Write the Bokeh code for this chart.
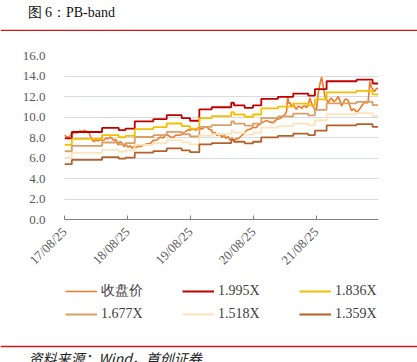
import numpy as np
import pandas as pd
from bokeh.plotting import figure
from bokeh.models import (ColumnDataSource, FixedTicker, DatetimeTickFormatter, Legend,
                          LegendItem, NumeralTickFormatter, Range1d, Label, Span)
from bokeh.layouts import column
from bokeh.embed import file_html
from bokeh.resources import INLINE

# ---------------- data ----------------
# dates are decimal years
close_t = [2017.642, 2017.674, 2017.717, 2017.753, 2017.801, 2017.848, 2017.896, 2017.928, 2017.959, 2017.991,
           2018.034, 2018.055, 2018.086, 2018.118, 2018.150, 2018.182, 2018.213, 2018.245, 2018.277, 2018.309,
           2018.340, 2018.372, 2018.404, 2018.436, 2018.467, 2018.499, 2018.531, 2018.563, 2018.594, 2018.626,
           2018.658, 2018.690, 2018.721, 2018.753, 2018.785, 2018.817, 2018.848, 2018.896, 2018.944, 2019.007,
           2019.055, 2019.113, 2019.166, 2019.213, 2019.261, 2019.297, 2019.340, 2019.377, 2019.420, 2019.483,
           2019.531, 2019.563, 2019.610, 2019.642, 2019.694, 2019.737, 2019.774, 2019.817, 2019.864, 2019.907,
           2019.944, 2019.986, 2020.007, 2020.039, 2020.070, 2020.118, 2020.150, 2020.182, 2020.213, 2020.245,
           2020.277, 2020.309, 2020.340, 2020.372, 2020.404, 2020.436, 2020.483, 2020.542, 2020.594, 2020.647,
           2020.690, 2020.721, 2020.753, 2020.801, 2020.859, 2020.912, 2020.964, 2021.007, 2021.044, 2021.086,
           2021.123, 2021.158, 2021.177, 2021.193, 2021.213, 2021.229, 2021.253, 2021.282, 2021.309, 2021.336,
           2021.356, 2021.388, 2021.420, 2021.440, 2021.467, 2021.491, 2021.520, 2021.547, 2021.570, 2021.599,
           2021.626, 2021.653, 2021.678, 2021.705, 2021.732, 2021.758, 2021.785, 2021.809, 2021.837, 2021.864,
           2021.891, 2021.920, 2021.944, 2021.967, 2021.996, 2022.023, 2022.050, 2022.078, 2022.102, 2022.126,
           2022.155, 2022.182, 2022.209, 2022.237, 2022.261, 2022.285, 2022.313, 2022.340, 2022.367, 2022.396,
           2022.420, 2022.451, 2022.472, 2022.486, 2022.499, 2022.523, 2022.551, 2022.578, 2022.605, 2022.631]
close_v = [8.27, 8.10, 8.00, 8.30, 8.50, 8.45, 8.65, 8.55, 8.70, 8.60,
           8.55, 8.20, 7.75, 7.60, 7.80, 7.65, 7.85, 7.70, 7.75, 7.95,
           7.85, 8.05, 7.90, 7.70, 7.80, 7.25, 7.60, 7.45, 7.10, 7.30,
           7.05, 7.20, 6.95, 7.15, 7.00, 7.20, 7.10, 7.25, 7.35, 7.40,
           7.70, 7.75, 8.05, 7.95, 8.30, 8.20, 8.05, 8.00, 8.25, 8.20,
           8.45, 8.55, 8.75, 8.70, 8.85, 8.70, 8.95, 8.80, 8.95, 9.05,
           8.80, 8.70, 8.40, 8.50, 8.20, 8.35, 8.00, 8.25, 7.90, 8.10,
           7.75, 7.95, 7.70, 7.90, 7.85, 8.05, 8.30, 8.70, 8.80, 9.00,
           8.95, 9.20, 9.30, 9.50, 9.65, 9.50, 9.45, 9.70, 9.80, 9.90,
           10.10, 10.30, 10.60, 12.00, 11.30, 11.40, 11.00, 11.30, 10.90, 10.75,
           11.05, 11.00, 10.85, 11.05, 11.10, 10.90, 11.20, 11.85, 11.40, 11.00,
           10.75, 10.82, 12.30, 13.20, 13.90, 13.00, 12.00, 11.70, 11.40, 11.70,
           11.85, 11.50, 11.60, 11.70, 12.00, 11.60, 11.07, 11.40, 11.70, 11.75,
           11.60, 11.10, 10.60, 10.80, 10.70, 10.50, 10.60, 10.80, 11.07, 11.30,
           11.45, 11.35, 11.50, 12.50, 13.45, 12.90, 12.66, 12.50, 12.80, 12.75]

# book value per share steps (value holds from its date until the next one)
bvps_t = [2017.647, 2017.764, 2018.245, 2018.510, 2018.615, 2018.764, 2019.059, 2019.272, 2019.510,
          2019.642, 2019.790, 2019.986, 2020.297, 2020.340, 2020.510, 2020.642, 2020.774, 2021.039,
          2021.282, 2021.520, 2021.626, 2021.812, 2022.288, 2022.542, 2022.631]
bvps_v = [3.97, 4.28, 4.48, 4.37, 4.44, 4.80, 4.91, 5.10, 4.96,
          4.83, 5.39, 5.49, 5.71, 5.58, 5.46, 5.58, 5.90, 6.00,
          6.16, 6.06, 6.38, 6.76, 6.84, 6.65, 6.65]

multiples = [1.995, 1.836, 1.677, 1.518, 1.359]
band_names = ["1.995X", "1.836X", "1.677X", "1.518X", "1.359X"]
close_name = "收盘价"

tick_dates = ["2017-08-25", "2018-08-25", "2019-08-25", "2020-08-25", "2021-08-25"]
y_ticks = [0, 2, 4, 6, 8, 10, 12, 14, 16]

title_text = "图 6：PB-band"
source_text = "资料来源：Wind，首创证券"

# ---------------- styling ----------------
close_color = "#F07A26"
band_colors = ["#C00000", "#F2C000", "#D9A066", "#FCE3BA", "#B5612B"]
SERIF = "Liberation Serif"
CLOSE_W = 1.6
BAND_W = 1.8
RULE_COLOR = "#D0161B"
W = 417


def to_dt(years):
    y = np.asarray(years, dtype=float)
    return pd.to_datetime((y - 1970.0) * 365.2425 * 86400000.0, unit="ms")


def strip(height):
    """A plain figure used as a text/rule strip; its data units equal pixels."""
    f = figure(width=W, height=height, output_backend="svg", toolbar_location=None,
               x_range=Range1d(0, W), y_range=Range1d(0, height),
               x_axis_location=None, y_axis_location=None, frame_align=False,
               min_border_left=0, min_border_right=0, min_border_top=0, min_border_bottom=0)
    f.grid.grid_line_color = None
    f.outline_line_color = None
    f.border_fill_color = "white"
    return f


# ---------------- header ----------------
hd = strip(31)
hd.add_layout(Label(x=27, y=19, text=title_text, text_baseline="middle",
                    text_font=SERIF, text_font_size="14px", text_color="#111111"))
hd.add_layout(Span(location=1, dimension="width", line_color=RULE_COLOR, line_width=1.5))

# ---------------- main chart ----------------
p = figure(width=W, height=244, output_backend="svg", toolbar_location=None,
           x_axis_type="datetime", frame_align=False,
           x_range=Range1d(pd.Timestamp("2017-08-25"), pd.Timestamp("2022-08-21")),
           y_range=Range1d(0, 16),
           min_border_left=64, min_border_right=39, min_border_top=24, min_border_bottom=52)
p.outline_line_color = None
p.background_fill_color = "white"
p.border_fill_color = "white"

src_c = ColumnDataSource(dict(x=to_dt(close_t), y=close_v))
p.line("x", "y", source=src_c, line_color=close_color, line_width=CLOSE_W)

bx = to_dt(bvps_t)
for m, col in zip(multiples, band_colors):
    s = ColumnDataSource(dict(x=bx, y=np.asarray(bvps_v) * m))
    p.step("x", "y", source=s, mode="after", line_color=col, line_width=BAND_W)

p.xgrid.grid_line_color = None
p.ygrid.grid_line_color = "#D5DAE3"
p.ygrid.grid_line_width = 1
p.yaxis.ticker = FixedTicker(ticks=y_ticks)
p.yaxis.formatter = NumeralTickFormatter(format="0.0")
p.yaxis.axis_line_color = None
p.yaxis.major_tick_line_color = None
p.yaxis.minor_tick_line_color = None
p.yaxis.major_label_standoff = 13
p.yaxis.major_label_text_font = SERIF
p.yaxis.major_label_text_font_size = "13px"
p.yaxis.major_label_text_color = "#595959"

tick_ms = [pd.Timestamp(d).value / 1e6 for d in tick_dates]
p.xaxis.ticker = FixedTicker(ticks=tick_ms)
fmt = "%y/%m/%d"
p.xaxis.formatter = DatetimeTickFormatter(milliseconds=fmt, seconds=fmt, minsec=fmt, minutes=fmt,
                                          hourmin=fmt, hours=fmt, days=fmt, months=fmt, years=fmt)
p.xaxis.axis_line_color = "#808080"
p.xaxis.axis_line_width = 1
p.xaxis.major_tick_line_color = "#808080"
p.xaxis.major_tick_in = 4
p.xaxis.major_tick_out = 0
p.xaxis.minor_tick_line_color = None
p.xaxis.major_label_orientation = np.pi / 4
p.xaxis.major_label_standoff = 10
p.xaxis.major_label_text_font = SERIF
p.xaxis.major_label_text_font_size = "13px"
p.xaxis.major_label_text_color = "#595959"

# ---------------- legend strip ----------------
lg = figure(width=W, height=65, output_backend="svg", toolbar_location=None,
            x_range=Range1d(0, 1), y_range=Range1d(0, 1), frame_align=False,
            x_axis_location=None, y_axis_location=None,
            min_border_left=65, min_border_right=0, min_border_top=7, min_border_bottom=0)
lg.grid.grid_line_color = None
lg.outline_line_color = None
lg.border_fill_color = "white"
# legend keys only: their points lie outside the strip's range
items = [LegendItem(label=close_name,
                    renderers=[lg.line([5, 6], [5, 6], line_color=close_color, line_width=CLOSE_W)])]
for col, name in zip(band_colors, band_names):
    items.append(LegendItem(label=name,
                            renderers=[lg.line([5, 6], [5, 6], line_color=col, line_width=BAND_W)]))
legend = Legend(items=items, location="top_left", orientation="horizontal", ncols=3,
                glyph_width=32, glyph_height=18, label_width=76, label_standoff=4, spacing=5,
                padding=0, margin=0, border_line_color=None, background_fill_alpha=0,
                label_text_font=SERIF, label_text_font_size="14px", label_text_color="#404040")
lg.add_layout(legend, "center")

# ---------------- footer ----------------
ft = strip(22)
ft.add_layout(Span(location=16, dimension="width", line_color=RULE_COLOR, line_width=1.5))
ft.add_layout(Label(x=28, y=5, text=source_text, text_baseline="middle",
                    text_font="Noto Sans CJK SC", text_font_style="italic",
                    text_font_size="14px", text_color="#222222"))

layout = column(hd, p, lg, ft, spacing=0, margin=0)
open("out.html", "w").write(file_html(layout, INLINE))
